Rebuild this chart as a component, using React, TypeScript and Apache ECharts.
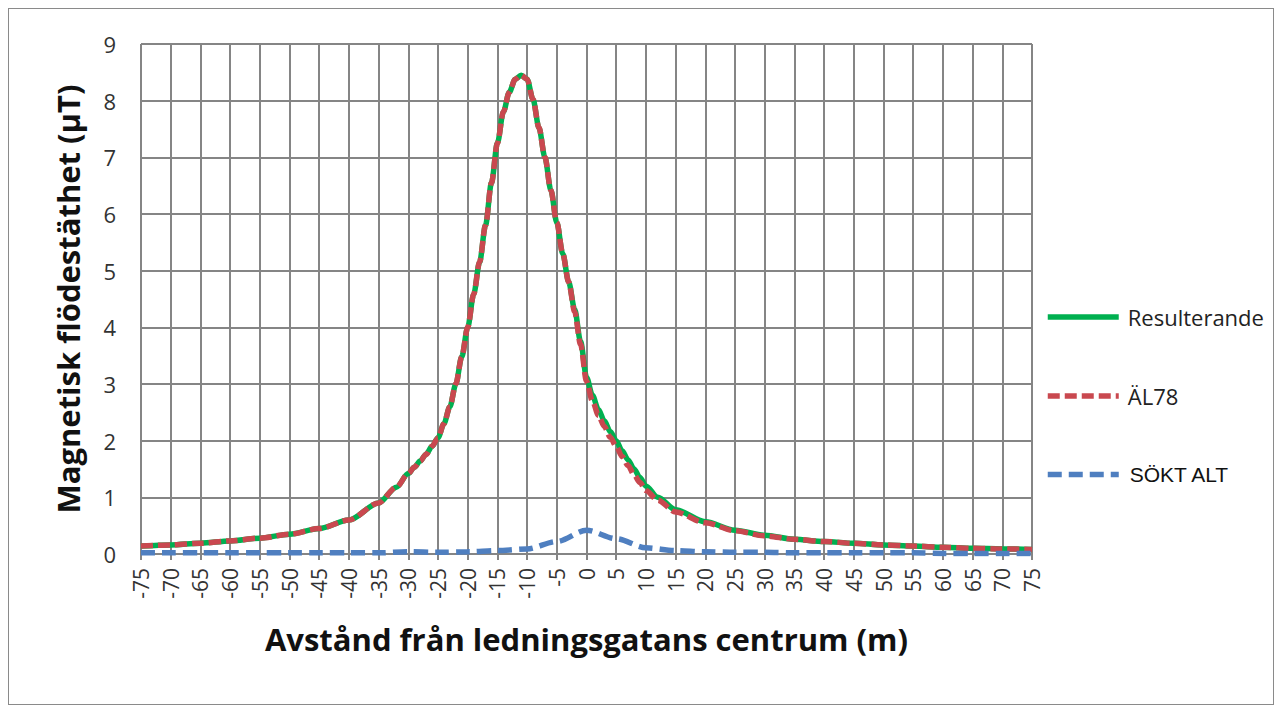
import React, { useEffect, useRef } from "react";
import * as echarts from "echarts";

const distX = [-75, -70, -65, -60, -55, -50, -45, -40, -35, -32, -30, -29, -28, -27, -26, -25, -24, -23, -22, -21, -20, -19, -18, -17, -16, -15, -14, -13, -12, -11, -10, -9, -8, -7, -6, -5, -4, -3, -2, -1, 0, 1, 2, 3, 4, 5, 6, 7, 8, 9, 10, 12, 15, 20, 25, 30, 35, 40, 45, 50, 55, 60, 65, 70, 75];
const resulterande = [0.14, 0.16, 0.19, 0.23, 0.28, 0.35, 0.45, 0.6, 0.9, 1.18, 1.42, 1.53, 1.64, 1.76, 1.9, 2.05, 2.3, 2.6, 3.0, 3.48, 4.0, 4.58, 5.15, 5.8, 6.55, 7.25, 7.8, 8.15, 8.38, 8.45, 8.38, 8.02, 7.52, 7.0, 6.42, 5.85, 5.3, 4.8, 4.32, 3.75, 3.12, 2.8, 2.55, 2.35, 2.16, 2.0, 1.82, 1.66, 1.5, 1.35, 1.2, 1.0, 0.78, 0.57, 0.42, 0.33, 0.26, 0.22, 0.19, 0.16, 0.14, 0.12, 0.1, 0.09, 0.08];
const al78 = [0.14, 0.16, 0.19, 0.23, 0.28, 0.35, 0.45, 0.6, 0.9, 1.18, 1.42, 1.53, 1.64, 1.76, 1.9, 2.05, 2.3, 2.6, 3.0, 3.48, 4.0, 4.58, 5.15, 5.8, 6.55, 7.25, 7.8, 8.15, 8.38, 8.45, 8.38, 8.02, 7.52, 7.0, 6.42, 5.85, 5.3, 4.8, 4.28, 3.7, 3.05, 2.7, 2.45, 2.25, 2.06, 1.9, 1.72, 1.56, 1.4, 1.26, 1.12, 0.95, 0.74, 0.55, 0.41, 0.32, 0.26, 0.22, 0.19, 0.16, 0.14, 0.12, 0.1, 0.09, 0.08];
const soktX = [-75, -70, -65, -60, -55, -50, -45, -40, -35, -30, -25, -20, -15, -10, -5, 0, 5, 10, 15, 20, 25, 30, 35, 40, 45, 50, 55, 60, 65, 70, 75];
const soktAlt = [0.02, 0.02, 0.02, 0.02, 0.02, 0.02, 0.02, 0.02, 0.02, 0.04, 0.03, 0.04, 0.06, 0.09, 0.22, 0.42, 0.27, 0.11, 0.06, 0.04, 0.03, 0.03, 0.02, 0.02, 0.02, 0.02, 0.02, 0.01, 0.01, 0.01, 0.01];
const seriesNames = ["Resulterande", "ÄL78", "SÖKT ALT"];
const yTitle = "Magnetisk flödestäthet (µT)";
const xTitle = "Avstånd från ledningsgatans centrum (m)";

const GRID = "#858585";
const FONT = "'Open Sans', sans-serif";

export default function App() {
  const ref = useRef<HTMLDivElement>(null);
  useEffect(() => {
    if (!ref.current) return;
    const chart = echarts.init(ref.current, null, { renderer: "svg" });
    chart.setOption({
      animation: false,
      backgroundColor: "#ffffff",
      grid: { left: 132, right: 241, top: 35, bottom: 150 },
      legend: {
        orient: "vertical",
        left: 1031,
        top: 292,
        itemWidth: 71,
        itemHeight: 20,
        itemGap: 57,
        itemStyle: { opacity: 0 },
        lineStyle: { width: 5.5 },
        textStyle: { fontFamily: FONT, fontSize: 22, color: "#222", padding: [0, 0, 0, 4] },
        data: [
          { name: seriesNames[0] },
          { name: seriesNames[1] },
          { name: seriesNames[2], textStyle: { fontFamily: "'Liberation Sans', Arial, sans-serif", fontSize: 21, color: "#111", padding: [0, 0, 0, 6] } },
        ],
      },
      xAxis: {
        type: "value",
        min: -75,
        max: 75,
        interval: 5,
        name: xTitle,
        nameLocation: "middle",
        nameGap: 69,
        nameTextStyle: { fontFamily: FONT, fontSize: 31, fontWeight: "bold", color: "#111" },
        axisLine: { show: true, lineStyle: { color: GRID, width: 2 } },
        axisTick: { show: true, length: 6, lineStyle: { color: GRID, width: 2 } },
        axisLabel: { rotate: 90, fontFamily: FONT, fontSize: 21, color: "#333", margin: 14 },
        splitLine: { show: true, lineStyle: { color: GRID, width: 2 } },
      },
      yAxis: {
        type: "value",
        min: 0,
        max: 9,
        interval: 1,
        name: yTitle,
        nameLocation: "middle",
        nameGap: 58,
        nameTextStyle: { fontFamily: FONT, fontSize: 31, fontWeight: "bold", color: "#111" },
        axisLine: { show: true, lineStyle: { color: GRID, width: 2 } },
        axisTick: { show: true, length: 8, lineStyle: { color: GRID, width: 2 } },
        axisLabel: { fontFamily: FONT, fontSize: 22, color: "#333", margin: 25 },
        splitLine: { show: true, lineStyle: { color: GRID, width: 2 } },
      },
      series: [
        {
          name: seriesNames[0],
          type: "line",
          smooth: 0.3,
          smoothMonotone: "x",
          symbol: "none",
          data: distX.map((x, i) => [x, resulterande[i]]),
          lineStyle: { color: "#00B050", width: 5.5 },
          itemStyle: { color: "#00B050" },
          z: 2,
        },
        {
          name: seriesNames[1],
          type: "line",
          smooth: 0.3,
          smoothMonotone: "x",
          symbol: "none",
          data: distX.map((x, i) => [x, al78[i]]),
          lineStyle: { color: "#C9484F", width: 5.5, type: [12, 5] },
          itemStyle: { color: "#C9484F" },
          z: 3,
        },
        {
          name: seriesNames[2],
          type: "line",
          smooth: 0.3,
          smoothMonotone: "x",
          symbol: "none",
          data: soktX.map((x, i) => [x, soktAlt[i]]),
          lineStyle: { color: "#4F7FC0", width: 5.5, type: [14, 7] },
          itemStyle: { color: "#4F7FC0" },
          z: 4,
        },
      ],
    });
    return () => chart.dispose();
  }, []);
  return (
    <div
      ref={ref}
      style={{ width: 1266, height: 697, border: "1px solid #8a8a8a", boxSizing: "border-box", background: "#fff" }}
    />
  );
}
